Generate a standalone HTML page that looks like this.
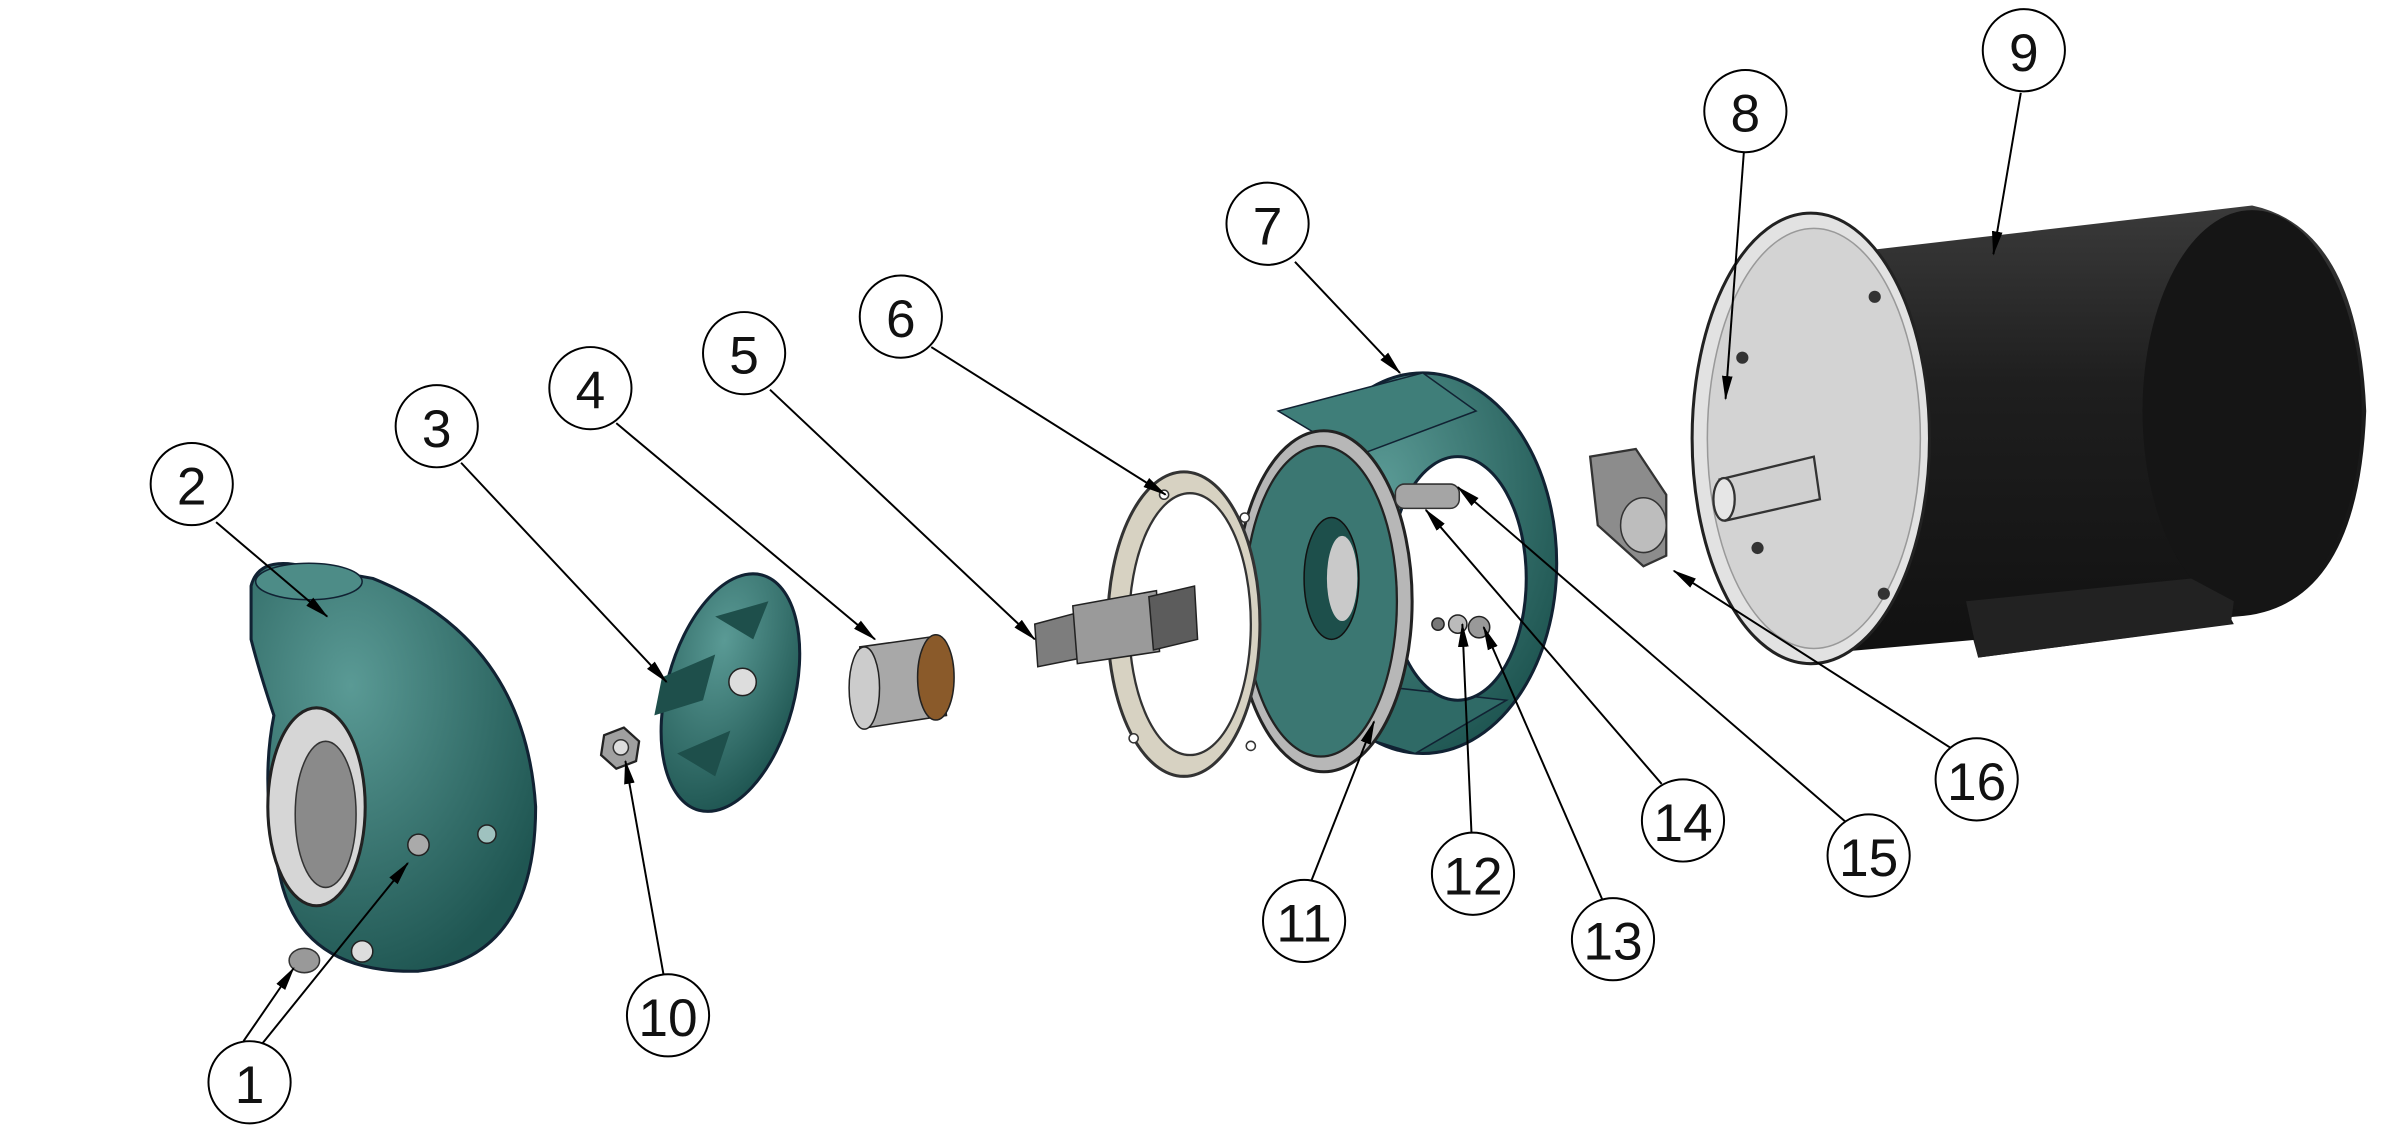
<!DOCTYPE html>
<html><head><meta charset="utf-8"><style>
html,body{margin:0;padding:0;background:#fff;}
svg{display:block;}
text{font-family:"Liberation Sans",sans-serif;font-size:35px;fill:#111;text-anchor:middle;dominant-baseline:central;}
</style></head><body>
<svg width="2386" height="1131" viewBox="0 0 1568 743" preserveAspectRatio="none" xmlns="http://www.w3.org/2000/svg">
<defs>
<marker id="a" markerWidth="16" markerHeight="10" refX="15" refY="5" orient="auto" markerUnits="userSpaceOnUse" viewBox="0 0 16 10"><path d="M0,1.5 L16,5 L0,8.5z" fill="#000"/></marker>
<radialGradient id="tg" cx="35%" cy="30%" r="75%"><stop offset="0" stop-color="#5a9a95"/><stop offset="1" stop-color="#1f5652"/></radialGradient>
<linearGradient id="mg" x1="0" y1="0" x2="0" y2="1"><stop offset="0" stop-color="#3a3a3a"/><stop offset="0.4" stop-color="#1e1e1e"/><stop offset="1" stop-color="#111"/></linearGradient>
</defs>
<rect width="1568" height="743" fill="#fff"/>

<!-- Motor -->
<path d="M1230,175 L1320,160 L1320,175 L1420,148 L1495,142 L1310,410 L1300,420 L1460,395 L1468,410 L1300,432z" fill="#1a1a1a"/>
<path d="M1180,170 L1480,135 Q1550,150 1555,270 Q1550,400 1470,405 L1190,430z" fill="url(#mg)"/>
<ellipse cx="1480" cy="270" rx="72" ry="132" fill="#151515"/>
<path d="M1292,395 L1440,380 L1468,395 L1466,410 L1300,432z" fill="#222"/>
<ellipse cx="1190" cy="288" rx="78" ry="148" fill="#e2e2e2" stroke="#222" stroke-width="2"/>
<ellipse cx="1192" cy="288" rx="70" ry="138" fill="#d3d3d3" stroke="#999" stroke-width="1"/>
<circle cx="1145" cy="235" r="4" fill="#333"/><circle cx="1232" cy="195" r="4" fill="#333"/><circle cx="1238" cy="390" r="4" fill="#333"/><circle cx="1155" cy="360" r="4" fill="#333"/>
<path d="M1130,315 L1192,300 L1196,328 L1134,342z" fill="#d0d0d0" stroke="#333" stroke-width="1.5"/>
<ellipse cx="1133" cy="328" rx="7" ry="14" fill="#e6e6e6" stroke="#333" stroke-width="1.5"/>

<!-- Bracket 16 -->
<path d="M1045,300 L1075,295 L1095,325 L1095,365 L1080,372 L1050,345z" fill="#8c8c8c" stroke="#333" stroke-width="1.5"/>
<ellipse cx="1080" cy="345" rx="15" ry="18" fill="#bdbdbd" stroke="#333"/>

<!-- Adapter 7 -->
<ellipse cx="935" cy="370" rx="88" ry="125" fill="url(#tg)" stroke="#123" stroke-width="2"/>
<path d="M840,270 L935,245 L970,270 L890,300z" fill="#3f7e79" stroke="#123"/>
<path d="M850,470 L930,495 L990,460 L900,450z" fill="#2f6a66" stroke="#123"/>
<ellipse cx="958" cy="380" rx="45" ry="80" fill="#fff" stroke="#123" stroke-width="2"/>
<ellipse cx="870" cy="395" rx="58" ry="112" fill="#b7b7b7" stroke="#222" stroke-width="2"/>
<ellipse cx="868" cy="395" rx="50" ry="102" fill="#3b7772" stroke="#222" stroke-width="1.5"/>
<ellipse cx="875" cy="380" rx="18" ry="40" fill="#1d4f4b" stroke="#111"/>
<ellipse cx="882" cy="380" rx="10" ry="28" fill="#c9c9c9"/>
<rect x="917" y="318" width="42" height="16" rx="6" fill="#a5a5a5" stroke="#333"/>
<circle cx="945" cy="410" r="4" fill="#777" stroke="#222"/><circle cx="958" cy="410" r="6" fill="#bbb" stroke="#222"/><circle cx="972" cy="412" r="7" fill="#999" stroke="#222"/>

<!-- Gasket 6 -->
<ellipse cx="778" cy="410" rx="50" ry="100" fill="#d7d2c2" stroke="#333" stroke-width="2"/>
<ellipse cx="782" cy="410" rx="40" ry="86" fill="#fff" stroke="#333" stroke-width="1.5"/>
<circle cx="765" cy="325" r="3" fill="#fff" stroke="#333"/><circle cx="818" cy="340" r="3" fill="#fff" stroke="#333"/><circle cx="822" cy="490" r="3" fill="#fff" stroke="#333"/><circle cx="745" cy="485" r="3" fill="#fff" stroke="#333"/>

<!-- Shaft 5 -->
<path d="M680,410 L710,402 L712,432 L682,438z" fill="#7d7d7d" stroke="#222"/>
<path d="M705,398 L760,388 L762,428 L708,436z" fill="#9a9a9a" stroke="#222"/>
<path d="M755,392 L785,385 L787,420 L758,427z" fill="#5c5c5c" stroke="#222"/>

<!-- Seal 4 -->
<path d="M565,425 L615,418 L622,470 L570,478z" fill="#a8a8a8" stroke="#222"/>
<ellipse cx="615" cy="445" rx="12" ry="28" fill="#8a5a2a" stroke="#222"/>
<ellipse cx="568" cy="452" rx="10" ry="27" fill="#ccc" stroke="#222"/>

<!-- Impeller 3 -->
<ellipse cx="480" cy="455" rx="42" ry="80" transform="rotate(15 480 455)" fill="url(#tg)" stroke="#123" stroke-width="2"/>
<path d="M435,445 L470,430 L462,460 L430,470z M445,495 L480,480 L470,510z M470,405 L505,395 L495,420z" fill="#1e4f4b"/>
<circle cx="488" cy="448" r="9" fill="#ddd" stroke="#222"/>

<!-- Nut 10 -->
<polygon points="397,483 410,478 420,487 418,500 405,505 395,496" fill="#a0a0a0" stroke="#222" stroke-width="1.5"/>
<circle cx="408" cy="491" r="5" fill="#ddd" stroke="#333"/>

<!-- Volute 2 -->
<path d="M165,385 Q170,365 200,372 L245,380 Q345,420 352,530 Q352,630 275,638 Q200,640 185,580 Q170,520 180,470 Q170,440 165,420z" fill="url(#tg)" stroke="#123" stroke-width="2"/>
<ellipse cx="203" cy="382" rx="35" ry="12" fill="#4d8c87" stroke="#123"/>
<ellipse cx="208" cy="530" rx="32" ry="65" fill="#d6d6d6" stroke="#222" stroke-width="2"/>
<ellipse cx="214" cy="535" rx="20" ry="48" fill="#8a8a8a" stroke="#333"/>
<circle cx="238" cy="625" r="7" fill="#ddd" stroke="#222"/>
<circle cx="275" cy="555" r="7" fill="#aaa" stroke="#222"/>
<circle cx="320" cy="548" r="6" fill="#9fc2bf" stroke="#222"/>
<ellipse cx="200" cy="631" rx="10" ry="8" fill="#999" stroke="#333"/>

<!-- Leaders -->
<g stroke="#000" stroke-width="1.3" fill="none" marker-end="url(#a)">
<line x1="160" y1="684" x2="193" y2="636"/>
<line x1="172" y1="686" x2="268" y2="567"/>
<line x1="142" y1="343" x2="215" y2="405"/>
<line x1="303" y1="304" x2="438" y2="448"/>
<line x1="405" y1="278" x2="575" y2="420"/>
<line x1="506" y1="256" x2="680" y2="420"/>
<line x1="612" y1="228" x2="766" y2="325"/>
<line x1="851" y1="172" x2="920" y2="245"/>
<line x1="1146" y1="100" x2="1134" y2="262"/>
<line x1="1328" y1="61" x2="1310" y2="167"/>
<line x1="436" y1="640" x2="411" y2="500"/>
<line x1="862" y1="578" x2="903" y2="474"/>
<line x1="967" y1="547" x2="961" y2="410"/>
<line x1="1053" y1="591" x2="975" y2="412"/>
<line x1="1092" y1="515" x2="937" y2="335"/>
<line x1="1213" y1="540" x2="958" y2="320"/>
<line x1="1283" y1="492" x2="1100" y2="375"/>
</g>

<!-- Balloons -->
<g fill="#fff" stroke="#000" stroke-width="1.3">
<circle cx="164" cy="711" r="27"/>
<circle cx="126" cy="318" r="27"/>
<circle cx="287" cy="280" r="27"/>
<circle cx="388" cy="255" r="27"/>
<circle cx="489" cy="232" r="27"/>
<circle cx="592" cy="208" r="27"/>
<circle cx="833" cy="147" r="27"/>
<circle cx="1147" cy="73" r="27"/>
<circle cx="1330" cy="33" r="27"/>
<circle cx="439" cy="667" r="27"/>
<circle cx="857" cy="605" r="27"/>
<circle cx="968" cy="574" r="27"/>
<circle cx="1060" cy="617" r="27"/>
<circle cx="1106" cy="539" r="27"/>
<circle cx="1228" cy="562" r="27"/>
<circle cx="1299" cy="512" r="27"/>
</g>
<g>
<text x="164" y="713">1</text>
<text x="126" y="320">2</text>
<text x="287" y="282">3</text>
<text x="388" y="257">4</text>
<text x="489" y="234">5</text>
<text x="592" y="210">6</text>
<text x="833" y="149">7</text>
<text x="1147" y="75">8</text>
<text x="1330" y="35">9</text>
<text x="439" y="669">10</text>
<text x="857" y="607">11</text>
<text x="968" y="576">12</text>
<text x="1060" y="619">13</text>
<text x="1106" y="541">14</text>
<text x="1228" y="564">15</text>
<text x="1299" y="514">16</text>
</g>
</svg>
</body></html>
